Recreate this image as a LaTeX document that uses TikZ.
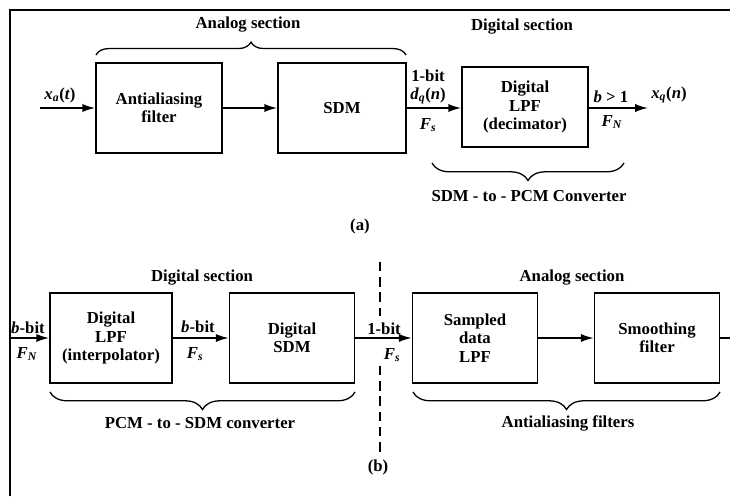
\documentclass[tikz,border=0pt]{standalone}
\usepackage{fontspec}
\setmainfont{Liberation Serif}
\usetikzlibrary{arrows.meta,decorations.pathreplacing}
\newcommand{\sv}[2]{\textit{#1}\textsubscript{\textit{#2}}}

\begin{document}
\begin{tikzpicture}[x=0.03cm,y=-0.03cm,
    font=\fontsize{14.3}{15.8}\selectfont\bfseries,
    block/.style={draw,line width=1.4pt,align=center,minimum width=3.75cm,minimum height=2.7cm,inner sep=2pt},
    sig/.style={line width=1.4pt,-{Latex[length=11pt,width=7pt]}},
    brc/.style={decorate,decoration={brace,amplitude=#1},line width=1.1pt}]
  \useasboundingbox (0,0) rectangle (730,496);
  \draw[line width=1.3pt] (10,496) -- (10,10) -- (730,10);

  % (a)
  \node[block,minimum width=3.78cm] (aaf) at (159,108) {Antialiasing\\filter};
  \node[block,minimum width=3.84cm] (sdm) at (342,108) {SDM};
  \node[block,minimum width=3.78cm,minimum height=2.4cm] (dec) at (525,107) {Digital\\LPF\\(decimator)};
  \coordinate (xin) at (40,108);
  \coordinate (xout) at (648,108);
  \draw[sig] (xin) -- (aaf);
  \draw[sig] (aaf) -- (sdm);
  \draw[sig] (sdm.east) -- (sdm.east -| dec.west);
  \draw[sig] (dec.east |- xout) -- (xout);

  \node (xa) at (60,95) {\sv{x}{a}(\textit{t})};
  \node (onebit) at (428,76) {1-bit};
  \node (dq) at (428,96) {\sv{d}{q}(\textit{n})};
  \node (fs) at (428,125) {\sv{F}{s}};
  \node (bgt) at (611,97) {\textit{b} > 1};
  \node (fn) at (612,122) {\sv{F}{N}};
  \node (xq) at (669,95) {\sv{x}{q}(\textit{n})};

  \draw[brc=11pt] (96,55) -- (406,55);
  \node (asec) at (248,25) {Analog section};
  \node (dsec) at (522,27) {Digital section};
  \draw[brc=15pt] (624,163) -- (432,163);
  \node (s2p) at (529,196) {SDM - to - PCM Converter};
  \node (capa) at (360,226) {(a)};

  % (b)
  \node[block,minimum width=3.66cm] (ipl) at (111,338) {Digital\\LPF\\(interpolator)};
  \node[block] (dsdm) at (292,338) {Digital\\SDM};
  \node[block] (sdl) at (475,338) {Sampled\\data\\LPF};
  \node[block] (smf) at (657,338) {Smoothing\\filter};
  \coordinate (bin) at (10,338);
  \coordinate (bout) at (730,338);
  \draw[sig] (bin) -- (ipl);
  \draw[sig] (ipl) -- (dsdm);
  \draw[sig] (dsdm) -- (sdl);
  \draw[sig] (sdl) -- (smf);
  \draw[line width=1.4pt] (smf) -- (bout);

  \node (bbit1) at (28,328) {\textit{b}-bit};
  \node (fn2) at (27,354) {\sv{F}{N}};
  \node (bbit2) at (198,327) {\textit{b}-bit};
  \node (fs2) at (195,354) {\sv{F}{s}};
  \node (onebit2) at (384,329) {1-bit};
  \node (fs3) at (392,355) {\sv{F}{s}};
  \draw[line width=1pt,dash pattern=on 8pt off 5pt] (380,262) -- (380,316);
  \draw[line width=1pt,dash pattern=on 8pt off 5pt] (380,366) -- (380,456);

  \node (dsec2) at (202,278) {Digital section};
  \node (asec2) at (572,278) {Analog section};
  \draw[brc=15pt] (355,392) -- (50,392);
  \node (p2s) at (200,423) {PCM - to - SDM converter};
  \draw[brc=15pt] (720,392) -- (413,392);
  \node (aafs) at (568,423) {Antialiasing filters};
  \node (capb) at (378,467) {(b)};
\end{tikzpicture}
\end{document}
